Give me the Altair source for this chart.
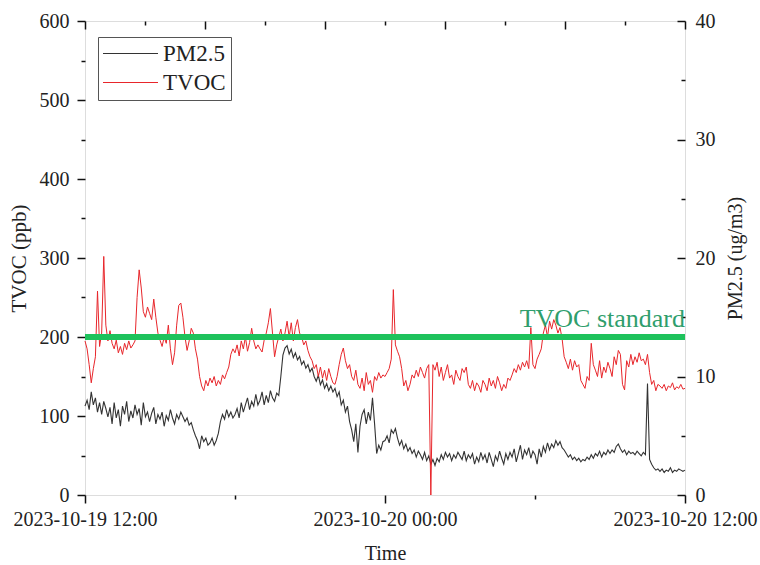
import altair as alt
import pandas as pd

# TVOC (ppb), one value every 5 minutes from 2023-10-19 12:00 to 2023-10-20 12:00
tvoc_ppb = [
    195, 185, 165, 142, 160, 175, 258, 188, 205, 302, 215, 195,
    208, 192, 185, 196, 180, 188, 178, 192, 184, 195, 186, 190,
    195, 250, 285, 262, 232, 225, 238, 230, 222, 248, 225, 205,
    196, 188, 200, 192, 215, 185, 165, 180, 215, 240, 243, 225,
    200, 183, 195, 211, 205, 185, 172, 150, 138, 132, 145, 138,
    148, 142, 150, 138, 145, 140, 152, 147, 155, 162, 178, 185,
    180, 190, 176, 195, 185, 200, 182, 193, 211, 195, 185, 190,
    185, 181, 196, 205, 218, 236, 205, 175, 190, 200, 210, 195,
    205, 220, 200, 218, 195, 212, 222, 205, 200, 190, 195, 183,
    175, 170, 160, 165, 150, 162, 148, 158, 145, 160, 150, 142,
    140, 150, 165, 178, 186, 170, 160, 165, 150, 145, 158, 140,
    135, 148, 132, 155, 140, 145, 130, 150, 145, 155, 148, 152,
    150, 155, 160, 172, 260, 190, 182, 175, 160, 138, 145, 132,
    140, 152, 148, 158, 150, 162, 155, 148, 160, 165, 0, 165,
    158, 168, 150, 162, 145, 155, 165, 148, 152, 140, 158, 150,
    145, 160, 155, 162, 140, 135, 145, 132, 142, 138, 130, 145,
    140, 132, 148, 138, 145, 135, 150, 142, 132, 140, 135, 148,
    145, 152, 160, 155, 165, 158, 168, 162, 170, 160, 212, 165,
    160, 172, 178, 185, 205, 215, 200, 220, 210, 222, 215, 205,
    212, 198, 175, 168, 160, 172, 158, 170, 162, 165, 145, 140,
    135, 150, 145, 192, 165, 158, 150, 170, 148, 162, 155, 168,
    160, 150, 175, 165, 183, 178, 140, 133, 170, 162, 178, 165,
    175, 168, 180, 170, 172, 165, 178, 155, 140, 145, 132, 140,
    138, 135, 140, 132, 138, 136, 142, 133, 137, 135, 140, 134,
    135,
]

# PM2.5 (ug/m3), same timestamps
pm25_ugm3 = [
    7.5, 8.0, 7.2, 8.7, 7.6, 8.2, 7.0, 7.8, 6.8, 7.9, 7.3, 6.6,
    7.4, 6.0, 7.8, 6.5, 7.2, 5.8, 7.5, 6.8, 7.9, 6.2, 7.1, 6.5,
    7.6, 6.8, 7.3, 5.9, 7.8, 6.6, 7.0, 6.2, 6.9, 7.4, 6.0, 6.8,
    6.4, 7.0, 5.8, 6.7, 6.3, 7.2, 6.5, 6.0, 6.8, 6.4, 7.0, 6.6,
    6.2, 6.5, 5.9, 6.1, 5.5, 5.0, 4.6, 3.9, 5.0, 4.5, 4.8, 4.2,
    4.4, 4.8, 4.2, 4.6, 5.2, 6.2, 6.8, 6.4, 7.2, 6.6, 7.0, 6.5,
    6.8, 7.3, 6.5, 7.8, 7.0, 7.6, 8.2, 7.2, 7.9, 7.5, 8.5, 7.6,
    8.0, 8.7, 7.6, 8.4, 7.8, 8.8, 8.2, 7.9, 8.6, 8.4, 10.0, 11.8,
    12.4, 12.6, 11.9, 12.3, 11.6, 12.0, 11.4, 11.7, 11.0, 11.3, 10.7, 11.0,
    10.4, 10.7, 10.0, 9.6, 10.1, 9.3, 9.7, 9.0, 9.4, 8.8, 9.2, 8.7,
    9.0, 8.3, 8.7, 7.6, 8.0, 7.0, 7.5, 6.2, 5.5, 4.5, 6.0, 3.6,
    5.8, 6.8, 7.2, 6.0, 7.0, 6.3, 8.2, 6.0, 3.5, 4.2, 3.8, 4.5,
    4.6, 5.0, 4.4, 5.5, 5.2, 5.6, 4.8, 4.2, 4.6, 3.9, 4.3, 3.7,
    4.0, 3.5, 3.8, 3.2, 3.7, 3.4, 3.0, 3.6, 2.9, 3.3, 2.6, 3.0,
    2.5, 3.1, 2.8, 3.4, 3.0, 3.6, 3.2, 3.5, 2.9, 3.4, 3.1, 3.6,
    3.3, 3.0, 3.7, 2.9, 3.4, 3.1, 3.5, 2.6, 3.2, 2.8, 3.6, 3.0,
    3.4, 2.7, 3.6, 3.0, 2.4, 3.3, 2.9, 3.7, 3.1, 2.6, 3.5, 3.0,
    3.6, 3.2, 3.9, 2.8, 3.5, 4.2, 3.0, 3.8, 3.4, 4.0, 3.1, 3.7,
    3.4, 2.6, 3.9, 3.2, 4.1, 3.6, 4.4, 3.8, 4.3, 4.0, 4.6, 4.2,
    4.5, 4.0, 3.8, 3.5, 3.2, 3.4, 3.0, 3.2, 2.9, 3.1, 2.8, 3.0,
    2.9, 3.2, 3.0, 3.4, 3.1, 3.5, 3.3, 3.7, 3.2, 3.6, 3.4, 3.8,
    3.5, 3.8, 3.6, 4.1, 4.3, 3.9, 3.6, 3.8, 3.4, 3.7, 3.5, 3.6,
    3.4, 3.7, 3.5, 3.3, 3.6, 3.4, 9.4, 3.0, 2.6, 2.3, 2.1, 2.2,
    2.0, 2.2, 1.9, 2.1, 2.0, 2.3, 1.9, 2.1, 2.0, 2.2, 2.1, 2.0,
    2.1,
]

series_names = ["PM2.5", "TVOC"]
series_colors = ["#333333", "#e8262b"]
tvoc_standard = 200
tvoc_ticks = [0, 50, 100, 150, 200, 250, 300, 350, 400, 450, 500, 550, 600]
pm_major = [0, 10, 20, 30, 40]
pm_minor = [5, 15, 25, 35]

times = pd.date_range("2023-10-19 12:00", periods=len(tvoc_ppb), freq="5min")
df = pd.DataFrame({"t": times, "tvoc": tvoc_ppb, "pm": pm25_ugm3})

FONT = "Liberation Serif"
TICK = "#111111"


def dt(d, h, m=0):
    return alt.DateTime(year=2023, month=10, date=d, hours=h, minutes=m)


x_dom = [dt(19, 12), dt(20, 12)]
bottom_vals = [dt(19, 12), dt(19, 18), dt(20, 0), dt(20, 6), dt(20, 12)]
top_major = [dt(19, 12), dt(19, 16, 48), dt(19, 21, 36), dt(20, 2, 24), dt(20, 7, 12), dt(20, 12)]
top_minor = [dt(19, 14, 24), dt(19, 19, 12), dt(20, 0), dt(20, 4, 48), dt(20, 9, 36)]

xscale = alt.Scale(domain=x_dom)
tv_scale = alt.Scale(domain=[0, 600], nice=False)
pm_scale = alt.Scale(domain=[0, 40], nice=False)

common = dict(labelFont=FONT, titleFont=FONT, labelColor="#222", titleColor="#222",
              tickColor=TICK, domain=False, grid=False, titleFontWeight="normal")

bottom_axis = alt.Axis(
    orient="bottom", values=bottom_vals,
    labelExpr="hours(datum.value) % 12 === 0 ? timeFormat(datum.value, '%Y-%m-%d %H:%M') : ''",
    tickSize=alt.condition("hours(datum.value) % 12 === 0", alt.value(8), alt.value(4)),
    tickWidth=1.5, labelFontSize=20, titleFontSize=20, labelPadding=6, titlePadding=14,
    labelFlush=False, labelOverlap=False, title="Time", **common)

left_axis = alt.Axis(
    orient="left", values=tvoc_ticks,
    labelExpr="datum.value % 100 === 0 ? datum.label : ''",
    tickSize=alt.condition("datum.value % 100 === 0", alt.value(8), alt.value(4)),
    tickWidth=1.5, labelFontSize=20, titleFontSize=21, labelPadding=8, titlePadding=10,
    title="TVOC (ppb)", **common)

right_axis = alt.Axis(
    orient="right", values=pm_major, tickSize=8, offset=-8, tickWidth=1.5,
    labelFontSize=20, titleFontSize=20, labelPadding=10, titlePadding=30,
    titleAngle=270, title="PM2.5 (ug/m3)", **common)


def tick_axis(orient, values, size):
    return alt.Axis(orient=orient, values=values, tickSize=size, offset=-size, tickWidth=1.5,
                    labels=False, title=None, domain=False, grid=False, tickColor=TICK)


color = alt.Color("series:N", scale=alt.Scale(domain=series_names, range=series_colors),
                  legend=alt.Legend(orient="none", legendX=13, legendY=16, title=None,
                                    symbolType="M-1.15,0H4.35", symbolSize=400,
                                    symbolStrokeWidth=1.2,
                                    labelFont=FONT, labelFontSize=23, labelColor="#222",
                                    strokeColor="#555", fillColor="white", padding=5,
                                    labelOffset=37, rowPadding=5))

base = alt.Chart(df)

pm_line = base.transform_calculate(series="'PM2.5'").mark_line(strokeWidth=1.1).encode(
    x=alt.X("t:T", scale=xscale, axis=bottom_axis),
    y=alt.Y("pm:Q", scale=pm_scale, axis=right_axis),
    color=color,
)

tv_line = base.transform_calculate(series="'TVOC'").mark_line(strokeWidth=1).encode(
    x=alt.X("t:T", scale=xscale, axis=None),
    y=alt.Y("tvoc:Q", scale=tv_scale, axis=left_axis),
    color=color,
)

std_rule = alt.Chart(pd.DataFrame({"v": [tvoc_standard]})).mark_rule(
    color="#1ec25c", strokeWidth=6).encode(
    y=alt.Y("v:Q", scale=tv_scale, axis=None))

std_df = pd.DataFrame({"t": [pd.Timestamp("2023-10-20 12:00")], "v": [tvoc_standard],
                       "label": ["TVOC standard"]})
std_text = alt.Chart(std_df).mark_text(
    align="right", baseline="alphabetic", dy=-10, font=FONT, fontSize=26, color="#2f9e6c").encode(
    x=alt.X("t:T", scale=xscale, axis=None),
    y=alt.Y("v:Q", scale=tv_scale, axis=None),
    text="label:N")

# invisible layers that only carry the inward-pointing tick marks (top and right)
ghost = base.mark_line(opacity=0)

right_minor = ghost.encode(
    x=alt.X("t:T", scale=xscale, axis=None),
    y=alt.Y("pm:Q", scale=pm_scale, axis=tick_axis("right", pm_minor, 4)))

top_maj = ghost.encode(
    x=alt.X("t:T", scale=xscale, axis=tick_axis("top", top_major, 8)),
    y=alt.Y("pm:Q", scale=pm_scale, axis=None))

top_min = ghost.encode(
    x=alt.X("t:T", scale=xscale, axis=tick_axis("top", top_minor, 4)),
    y=alt.Y("pm:Q", scale=pm_scale, axis=None))

chart = alt.layer(
    pm_line, tv_line, std_rule, std_text, right_minor, top_maj, top_min
).resolve_scale(y="independent").resolve_axis(x="independent", y="independent").properties(
    width=600, height=474,
    padding={"left": 85, "top": 21, "right": 75, "bottom": 70},
    autosize=alt.AutoSizeParams(type="none"),
).configure_view(stroke="#111", strokeWidth=1.5).configure(background="white")

chart.save("out.html", embed_options={"renderer": "svg", "actions": False})
